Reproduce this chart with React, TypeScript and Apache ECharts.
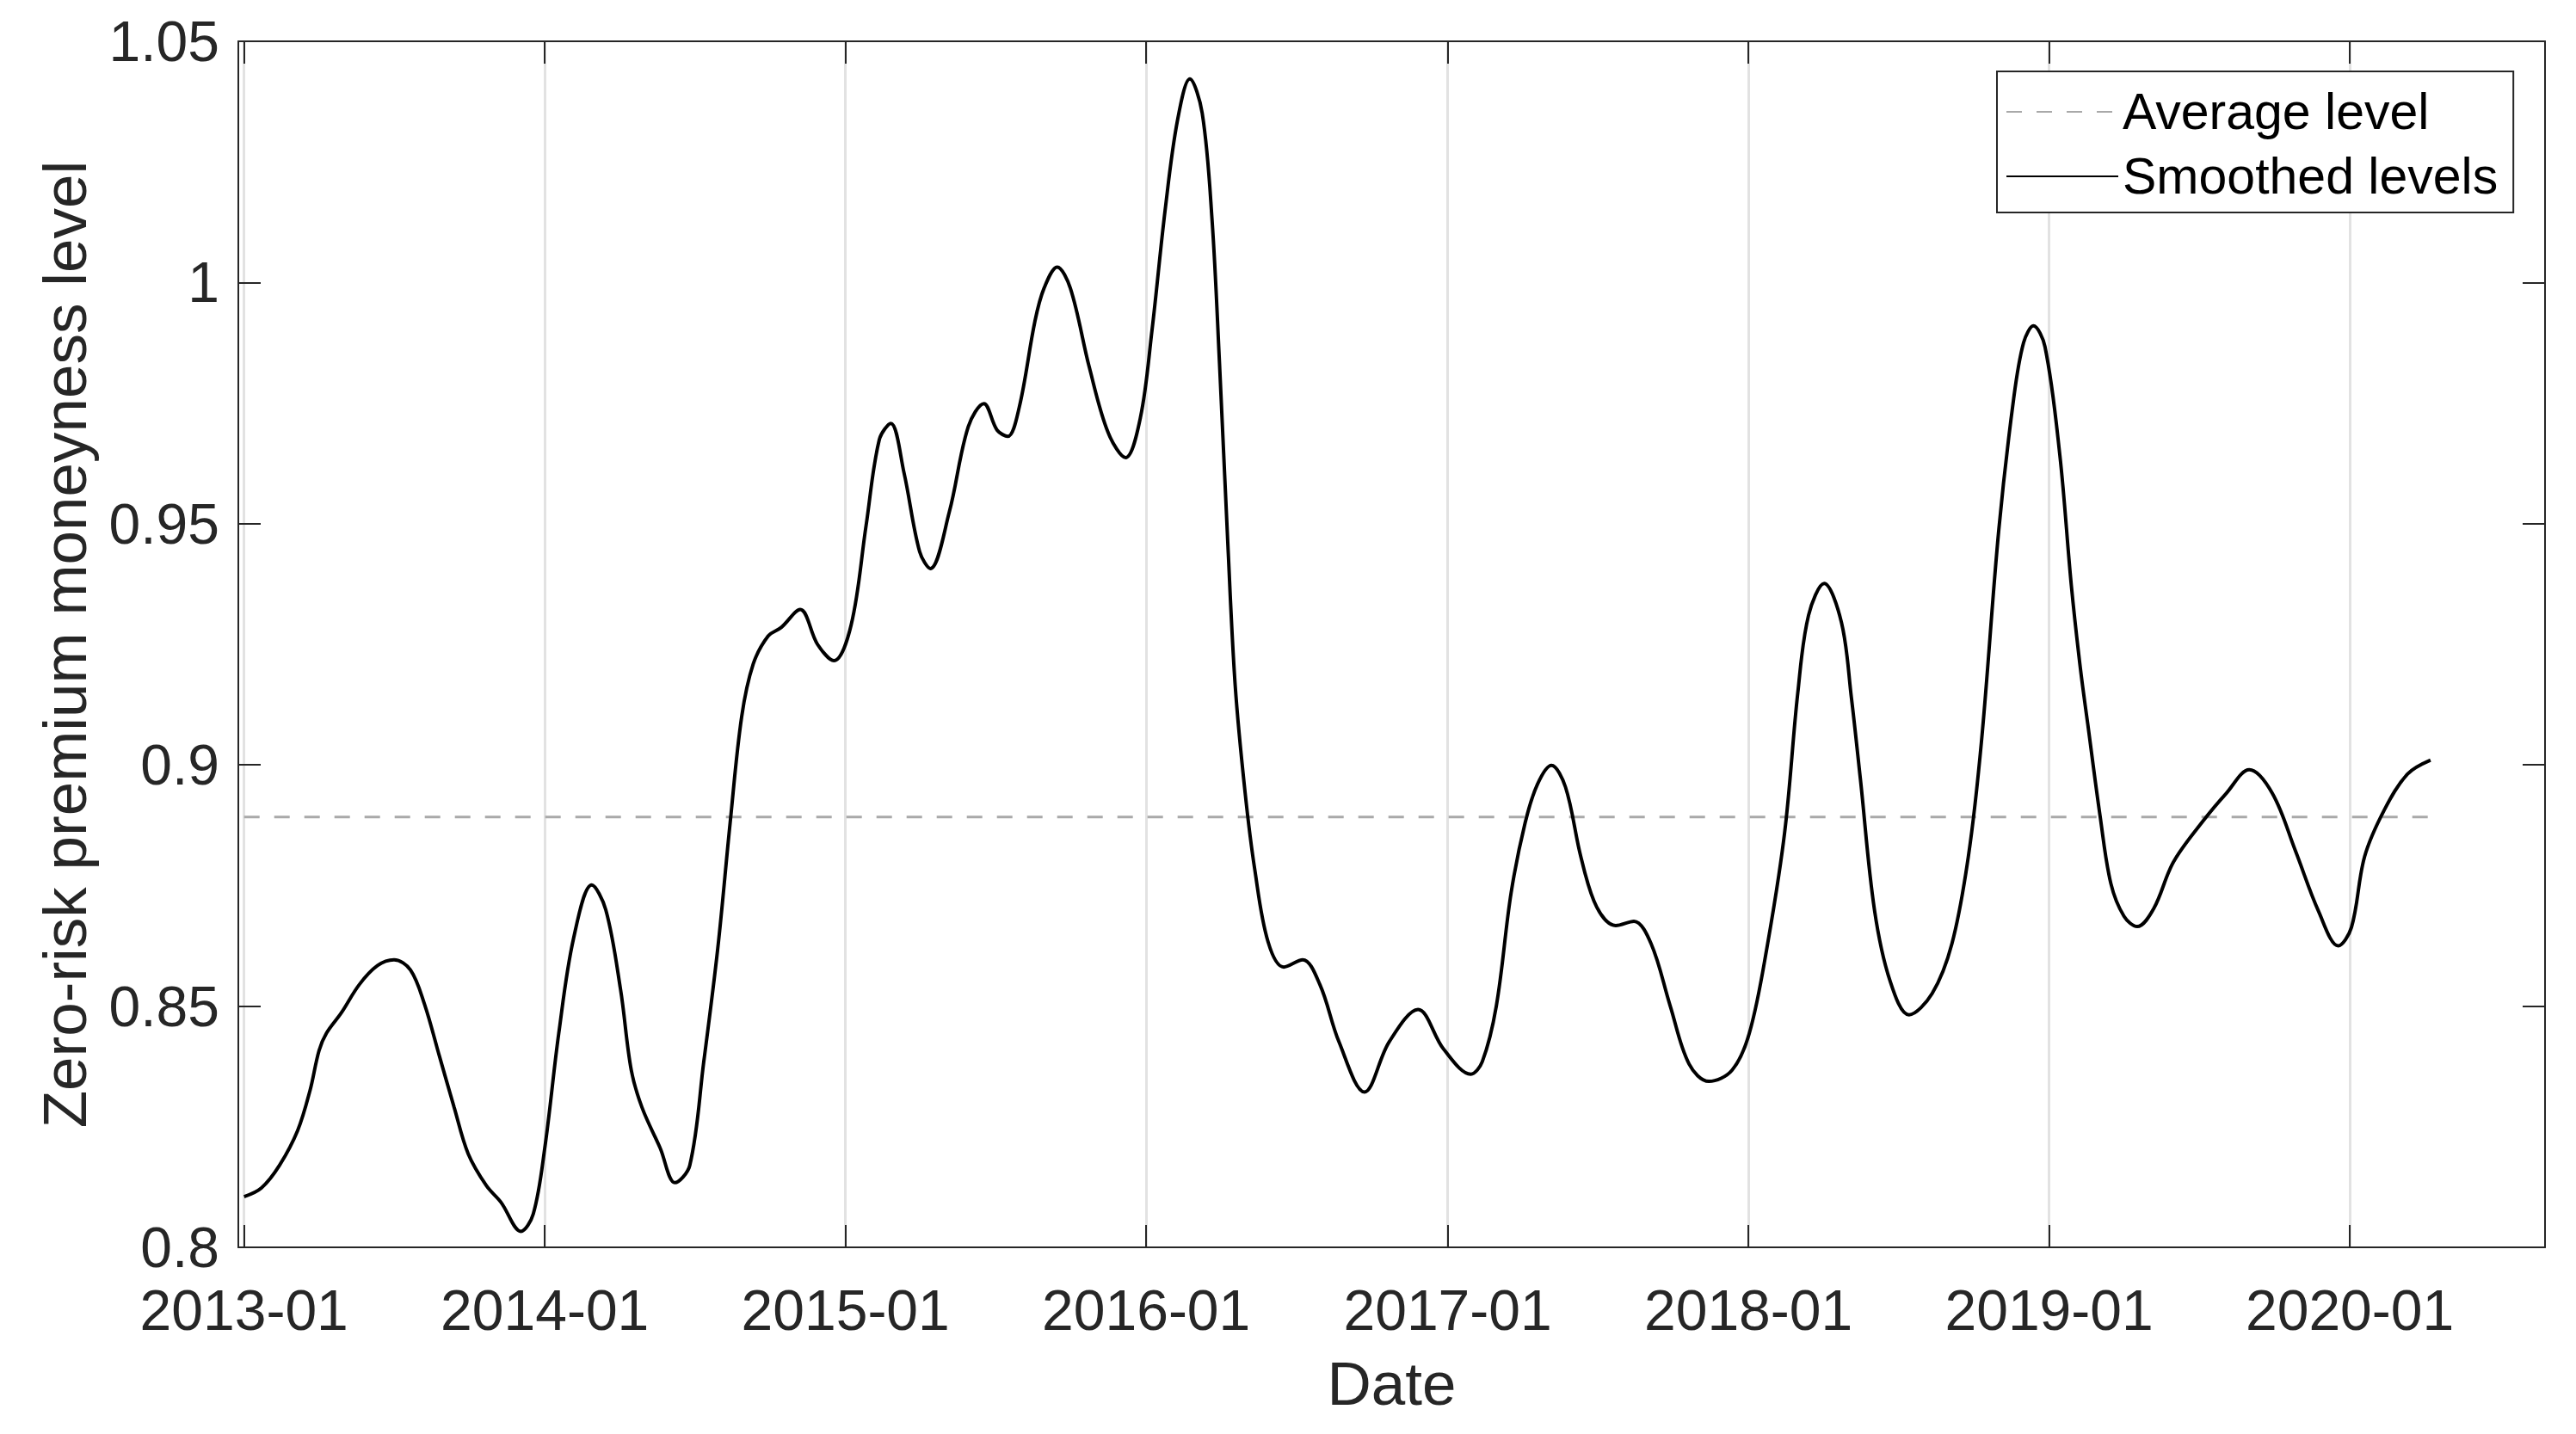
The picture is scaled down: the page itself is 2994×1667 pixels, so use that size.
import React, { useEffect, useRef } from "react";
import * as echarts from "echarts";

const FONT = "'Liberation Sans', Arial, Helvetica, sans-serif";

const dates: string[] = [
  "2013-01-01", "2013-01-22", "2013-02-13", "2013-03-07", "2013-03-22", "2013-04-02", "2013-04-11", "2013-04-29",
  "2013-05-21", "2013-06-12", "2013-07-02", "2013-07-22", "2013-08-08", "2013-08-26", "2013-09-13", "2013-09-30",
  "2013-10-22", "2013-11-09", "2013-12-03", "2013-12-18",
  "2014-01-01", "2014-01-18", "2014-02-05", "2014-02-27", "2014-03-16", "2014-04-03", "2014-04-16", "2014-04-29",
  "2014-05-21", "2014-06-08", "2014-06-26", "2014-07-13", "2014-07-30", "2014-08-14", "2014-08-28", "2014-09-11",
  "2014-09-29", "2014-10-15", "2014-11-07", "2014-11-28", "2014-12-18",
  "2015-01-08", "2015-01-26", "2015-02-11", "2015-02-25", "2015-03-13", "2015-04-01", "2015-04-14", "2015-05-07",
  "2015-05-30", "2015-06-18", "2015-07-04", "2015-07-17", "2015-07-31", "2015-08-19", "2015-08-30", "2015-09-15",
  "2015-10-01", "2015-10-24", "2015-11-16", "2015-12-07", "2015-12-25",
  "2016-01-08", "2016-01-24", "2016-02-08", "2016-02-23", "2016-03-09", "2016-03-21", "2016-03-30", "2016-04-09",
  "2016-04-18", "2016-04-30", "2016-05-12", "2016-05-28", "2016-06-16", "2016-07-09", "2016-07-30", "2016-08-22",
  "2016-09-22", "2016-10-22", "2016-11-26", "2016-12-27",
  "2017-01-29", "2017-02-12", "2017-03-01", "2017-03-19", "2017-04-05", "2017-04-20", "2017-05-07", "2017-05-24",
  "2017-06-12", "2017-07-01", "2017-07-24", "2017-08-15", "2017-09-05", "2017-09-28", "2017-10-21", "2017-11-14",
  "2017-12-12",
  "2018-01-02", "2018-01-23", "2018-02-14", "2018-03-02", "2018-03-15", "2018-04-03", "2018-04-24",
  "2018-05-06", "2018-05-17", "2018-06-03", "2018-06-22", "2018-07-15", "2018-08-12", "2018-09-05", "2018-09-25",
  "2018-10-11", "2018-11-01", "2018-11-19", "2018-12-01", "2018-12-13", "2018-12-27",
  "2019-01-14", "2019-01-28", "2019-02-08", "2019-02-17", "2019-03-04", "2019-03-17", "2019-04-02", "2019-04-18",
  "2019-05-08", "2019-06-01", "2019-07-07", "2019-08-04", "2019-09-01", "2019-09-29", "2019-10-27", "2019-11-24",
  "2019-12-18",
  "2020-01-03", "2020-01-19", "2020-02-12", "2020-03-11", "2020-04-08",
];

const levels: number[] = [
  0.8105, 0.8123, 0.817, 0.8242, 0.8325, 0.8408, 0.8444, 0.8486,
  0.8545, 0.8584, 0.8596, 0.8575, 0.8504, 0.8397, 0.829, 0.8194,
  0.8128, 0.8093, 0.8033, 0.8069,
  0.8206, 0.8444, 0.8641, 0.8751, 0.87, 0.8534, 0.8367, 0.829,
  0.8206, 0.8134, 0.817, 0.8385, 0.862, 0.888, 0.91, 0.9209,
  0.9267, 0.9285, 0.9322, 0.925, 0.9216,
  0.9291, 0.9496, 0.9674, 0.9708, 0.9606, 0.9442, 0.9407, 0.9524,
  0.9701, 0.9749, 0.9694, 0.9681, 0.9742, 0.992, 0.9988, 1.0032,
  0.9988, 0.9824, 0.9688, 0.9637, 0.972,
  0.99, 1.015, 1.0336, 1.0422, 1.0351, 1.0129, 0.9833, 0.9463,
  0.9166, 0.8944, 0.8781, 0.8633, 0.8581, 0.8596, 0.8544, 0.8426,
  0.8322, 0.8426, 0.8493, 0.8411,
  0.8359, 0.8385, 0.85, 0.8735, 0.888, 0.896, 0.8999, 0.8954,
  0.8807, 0.8705, 0.8667, 0.8676, 0.8629, 0.8501, 0.838, 0.8344,
  0.8367,
  0.8443, 0.8616, 0.886, 0.915, 0.931, 0.9376, 0.9295,
  0.914, 0.897, 0.87, 0.8552, 0.8482, 0.8526, 0.8629, 0.881,
  0.905, 0.9488, 0.9759, 0.9875, 0.991, 0.9867,
  0.9643, 0.9372, 0.92, 0.9084, 0.8893, 0.8754, 0.8686, 0.8665,
  0.8702, 0.8799, 0.8884, 0.8941, 0.899, 0.8941, 0.8822, 0.8697,
  0.8625,
  0.8663, 0.881, 0.8907, 0.8981, 0.901,
];

const averageLevel = 0.8892;

const xTickDates: string[] = [
  "2013-01-01", "2014-01-01", "2015-01-01", "2016-01-01",
  "2017-01-01", "2018-01-01", "2019-01-01", "2020-01-01",
];

const xMin = "2012-12-25";
const xMax = "2020-08-25";
const yMin = 0.8;
const yMax = 1.05;
const yStep = 0.05;

const seriesNames = ["Average level", "Smoothed levels"];
const xTitle = "Date";
const yTitle = "Zero-risk premium moneyness level";

function ts(s: string): number {
  const [y, m, d] = s.split("-").map(Number);
  return new Date(y, m - 1, d).getTime();
}

function fmtMonth(v: number): string {
  const d = new Date(v);
  return `${d.getFullYear()}-${String(d.getMonth() + 1).padStart(2, "0")}`;
}

export default function App() {
  const ref = useRef<HTMLDivElement>(null);

  useEffect(() => {
    if (!ref.current) return;
    const chart = echarts.init(ref.current, undefined, { renderer: "svg" });

    const curve = dates.map((d, i) => [ts(d), levels[i]]);
    const avg = [
      [ts(dates[0]), averageLevel],
      [ts(dates[dates.length - 1]), averageLevel],
    ];
    const ticks = xTickDates.map(ts);
    const axisColor = "#262626";
    const axisLine = { show: true, onZero: false, lineStyle: { color: axisColor, width: 2 } };
    const tick = { show: true, inside: true, length: 26, lineStyle: { color: axisColor, width: 2 } };

    const option: any = {
      animation: false,
      backgroundColor: "#ffffff",
      textStyle: { fontFamily: FONT },
      grid: { left: 277, right: 36, top: 48, bottom: 217, containLabel: false },
      legend: {
        show: true,
        orient: "vertical",
        left: 2321,
        top: 83,
        padding: [17, 18, 12, 10],
        itemWidth: 130,
        itemHeight: 20,
        itemGap: 15,
        backgroundColor: "#ffffff",
        borderColor: axisColor,
        borderWidth: 2,
        borderRadius: 0,
        itemStyle: { opacity: 0 },
        data: seriesNames,
        textStyle: { fontSize: 59, color: "#000000", lineHeight: 60, fontFamily: FONT },
      },
      xAxis: [
        {
          type: "value",
          position: "bottom",
          min: ts(xMin),
          max: ts(xMax),
          name: xTitle,
          nameLocation: "middle",
          nameGap: 123,
          nameTextStyle: { fontSize: 71, color: axisColor, fontFamily: FONT },
          axisLine,
          axisTick: { ...tick, customValues: ticks },
          axisLabel: {
            show: true,
            customValues: ticks,
            formatter: (v: number) => fmtMonth(v),
            fontSize: 66,
            lineHeight: 54,
            color: axisColor,
            margin: 46,
            fontFamily: FONT,
            hideOverlap: false,
          },
          splitLine: { show: true, lineStyle: { color: "#e2e2e2", width: 3 } },
          minorTick: { show: false },
        },
        {
          type: "value",
          position: "top",
          min: ts(xMin),
          max: ts(xMax),
          axisLine,
          axisTick: { ...tick, customValues: ticks },
          axisLabel: { show: false },
          splitLine: { show: false },
        },
      ],
      yAxis: [
        {
          type: "value",
          position: "left",
          min: yMin,
          max: yMax,
          interval: yStep,
          name: yTitle,
          nameLocation: "middle",
          nameGap: 166,
          nameTextStyle: { fontSize: 71, color: axisColor, fontFamily: FONT },
          axisLine,
          axisTick: tick,
          axisLabel: { fontSize: 66, lineHeight: 54, color: axisColor, margin: 22, fontFamily: FONT },
          splitLine: { show: false },
        },
        {
          type: "value",
          position: "right",
          min: yMin,
          max: yMax,
          interval: yStep,
          axisLine,
          axisTick: tick,
          axisLabel: { show: false },
          splitLine: { show: false },
        },
      ],
      series: [
        {
          name: seriesNames[0],
          type: "line",
          data: avg,
          symbol: "none",
          showSymbol: false,
          silent: true,
          z: 3,
          lineStyle: { color: "#a9a9a9", width: 3, type: [18, 17] },
          itemStyle: { color: "#a9a9a9" },
        },
        {
          name: seriesNames[1],
          type: "line",
          data: curve,
          symbol: "none",
          showSymbol: false,
          smooth: 0.35,
          silent: true,
          z: 4,
          lineStyle: { color: "#000000", width: 4 },
          itemStyle: { color: "#000000" },
        },
      ],
    };

    chart.setOption(option);
    return () => chart.dispose();
  }, []);

  return (
    <div
      ref={ref}
      style={{ position: "fixed", left: 0, top: 0, width: "2994px", height: "1667px", background: "#fff" }}
    />
  );
}
